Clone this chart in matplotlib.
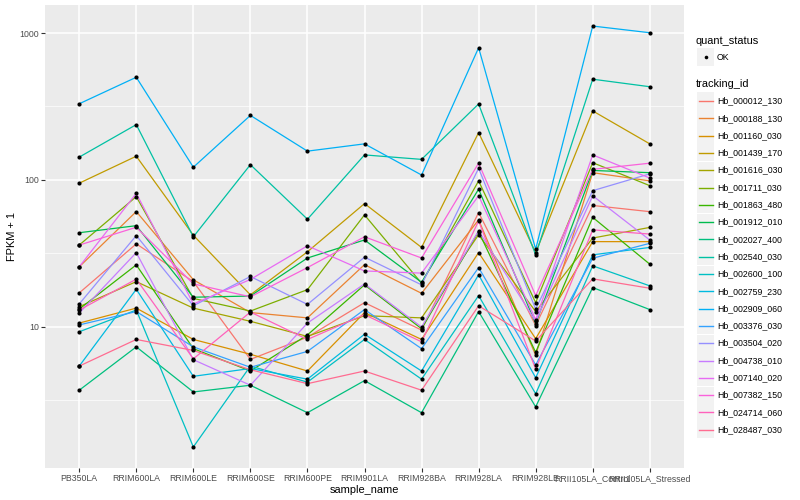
import numpy as np
import matplotlib.pyplot as plt
from matplotlib.patches import Rectangle
from matplotlib.lines import Line2D

plt.rcParams['font.family'] = ['Liberation Sans', 'DejaVu Sans']

# samples on the x axis
samples = ['PB350LA', 'RRIM600LA', 'RRIM600LE', 'RRIM600SE', 'RRIM600PE', 'RRIM901LA',
           'RRIM928BA', 'RRIM928LA', 'RRIM928LE', 'RRII105LA_Control', 'RRII105LA_Stressed']

tracking_ids = ['Hb_000012_130', 'Hb_000188_130', 'Hb_001160_030', 'Hb_001439_170',
                'Hb_001616_030', 'Hb_001711_030', 'Hb_001863_480', 'Hb_001912_010',
                'Hb_002027_400', 'Hb_002540_030', 'Hb_002600_100', 'Hb_002759_230',
                'Hb_002909_060', 'Hb_003376_030', 'Hb_003504_020', 'Hb_004738_010',
                'Hb_007140_020', 'Hb_007382_150', 'Hb_024714_060', 'Hb_028487_030']

# ggplot hue palette, 20 levels
colors = ['#F8766D', '#EA8331', '#D89000', '#C09B00', '#A3A500', '#7CAE00', '#39B600',
          '#00BB4E', '#00BF7D', '#00C1A3', '#00BFC4', '#00BAE0', '#00B0F6', '#35A2FF',
          '#9590FF', '#C77CFF', '#E76BF3', '#FA62DB', '#FF62BC', '#FF6C91']

# FPKM + 1, one row per tracking id
fpkm1 = [
    [17, 36.7, 20.3, 6.0, 8.5, 14.6, 9.5, 60, 10.2, 67, 60.8],
    [25.6, 60.9, 20.9, 12.5, 11.5, 26.5, 16.9, 53.5, 6.4, 112, 98.5],
    [10.6, 13.4, 8.2, 6.5, 5.0, 12.5, 8.2, 32, 8.3, 38, 38],
    [95, 145, 42, 16.5, 32.4, 69, 34.7, 210, 32, 295, 176],
    [13.7, 20.3, 13.4, 10.9, 8.6, 11.9, 11.5, 42.3, 12.7, 40.2, 47.5],
    [36, 77, 15.6, 12.8, 17.9, 57.8, 19.8, 98.5, 14.6, 131, 91.4],
    [13.2, 26.4, 7.1, 5.0, 8.8, 19.3, 9.7, 44.5, 6.7, 55.6, 26.7],
    [43.7, 48.8, 15.9, 16.2, 29.4, 39, 20.1, 86.5, 10.5, 116, 112],
    [3.7, 7.3, 3.6, 4.0, 2.6, 4.3, 2.6, 12.7, 2.85, 18.5, 13.1],
    [143, 238, 41, 127, 54, 148, 138, 329, 30.9, 485, 431],
    [9.25, 13, 1.52, 5.4, 4.2, 8.2, 4.4, 16.3, 3.5, 26, 19],
    [5.4, 18, 4.6, 5.2, 4.4, 8.9, 5.0, 22.6, 4.5, 30.9, 34.7],
    [330, 500, 122, 275, 157, 176, 108, 794, 33.8, 1116, 1005],
    [10.3, 12.7, 7.3, 5.3, 6.8, 13.1, 7.1, 25.3, 5.5, 29.3, 37],
    [14.3, 41.8, 13.9, 22, 14.2, 29.8, 19.3, 120, 13.2, 84.5, 110],
    [12.4, 32, 5.97, 4.0, 10.6, 19.6, 9.96, 45, 10.9, 78, 39],
    [25.6, 81, 14.3, 21, 35.6, 24, 23.2, 78, 11.2, 148, 103],
    [36, 47.6, 19.6, 16.0, 25.3, 41, 29.4, 130, 16.3, 118, 130],
    [13.0, 21.1, 6.05, 12.6, 8.2, 12.1, 7.9, 52.6, 5.15, 45.7, 42.8],
    [5.4, 8.2, 6.9, 5.1, 4.1, 5.0, 3.7, 13.9, 8.0, 21.2, 18.3],
]

W, H = 800, 500
fig = plt.figure(figsize=(8, 5), dpi=100)
ax = fig.add_axes([45 / W, 1 - 468 / H, (684 - 45) / W, (468 - 5) / H])
ax.set_facecolor('#EBEBEB')

x = np.arange(1, len(samples) + 1)
for vals, c in zip(fpkm1, colors):
    ax.plot(x, vals, color=c, lw=0.9, zorder=3)
for vals in fpkm1:
    ax.plot(x, vals, 'o', color='black', ms=3, mec='none', zorder=4)

# log scale with ggplot style 5% expansion
ax.set_yscale('log')
allv = np.array(fpkm1)
lo, hi = np.log10(allv.min()), np.log10(allv.max())
pad = (hi - lo) * 0.05
ax.set_ylim(10 ** (lo - pad), 10 ** (hi + pad))
ax.set_xlim(0.4, len(samples) + 0.6)

ax.set_yticks([10, 100, 1000])
ax.set_yticklabels(['10', '100', '1000'])
ax.set_yticks([10 ** 0.5, 10 ** 1.5, 10 ** 2.5], minor=True)
ax.yaxis.set_minor_formatter(plt.NullFormatter())
ax.set_xticks(x)
ax.set_xticklabels(samples)

ax.grid(True, which='major', color='white', lw=1.1)
ax.grid(True, which='minor', axis='y', color='white', lw=0.5)
ax.set_axisbelow(True)
for s in ax.spines.values():
    s.set_visible(False)
ax.tick_params(which='major', length=2.8, width=0.8, color='#333333',
               labelsize=6.3, labelcolor='#4D4D4D', pad=1.5)
ax.tick_params(which='minor', length=0)

ax.set_xlabel('sample_name', fontsize=7.9, labelpad=1.5)
ax.set_ylabel('FPKM + 1', fontsize=7.9, labelpad=2)


def fx(px):
    return px / W


def fy(py):
    return 1 - py / H


# legend: quant_status
fig.text(fx(696), fy(41), 'quant_status', fontsize=7.9, va='center', ha='left')
fig.add_artist(Rectangle((fx(697), fy(65.5)), 17 / W, 17 / H, facecolor='#F2F2F2',
                         edgecolor='none', transform=fig.transFigure))
fig.add_artist(Line2D([fx(705.5)], [fy(57)], marker='o', color='black', ms=2.6,
                      mec='none', transform=fig.transFigure))
fig.text(fx(717), fy(57), 'OK', fontsize=6.3, va='center', ha='left')

# legend: tracking_id
fig.text(fx(696), fy(84), 'tracking_id', fontsize=7.9, va='center', ha='left')
for i, (tid, c) in enumerate(zip(tracking_ids, colors)):
    cy = 101 + 17.3 * i
    fig.add_artist(Rectangle((fx(697), fy(cy + 8.5)), 17 / W, 17 / H, facecolor='#F2F2F2',
                             edgecolor='none', transform=fig.transFigure))
    fig.add_artist(Line2D([fx(698.5), fx(712.5)], [fy(cy), fy(cy)], color=c, lw=1.0,
                          transform=fig.transFigure))
    fig.text(fx(717), fy(cy), tid, fontsize=6.3, va='center', ha='left')

fig.savefig('out.png', dpi=100)
